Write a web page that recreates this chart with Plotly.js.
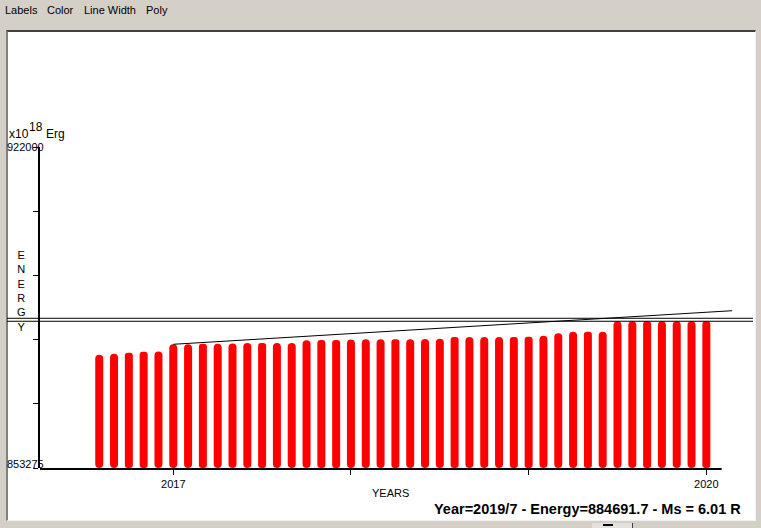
<!DOCTYPE html>
<html>
<head>
<meta charset="utf-8">
<script src="https://cdn.plot.ly/plotly-3.0.1.min.js"></script>
<style>
  html, body { margin: 0; padding: 0; width: 761px; height: 528px; overflow: hidden; background: #d4d0c8; }
  #menu span { position: absolute; top: 4px; font: 11px "Liberation Sans", Arial, sans-serif; color: #000; }
  #panel { position: absolute; left: 6px; top: 30px; width: 747px; height: 488px; background: #fff;
           border-top: 2px solid #404040; border-left: 2px solid #808080;
           border-right: 1px solid #f0f0f0; border-bottom: 1px solid #f0f0f0; }
  #btn { position: absolute; left: 592px; top: 523px; width: 40px; height: 6px; background: #e4e2dc; border-right: 1px solid #404040; }
  #btnmark { position: absolute; left: 603px; top: 524px; width: 10px; height: 2px; background: #000; }
  #chart { position: absolute; left: 0; top: 0; width: 761px; height: 528px; }
</style>
</head>
<body>
<div id="menu">
  <span style="left:5px">Labels</span>
  <span style="left:47px">Color</span>
  <span style="left:84px">Line Width</span>
  <span style="left:146px">Poly</span>
</div>
<div id="panel"></div>
<div id="btn"></div>
<div id="btnmark"></div>
<div id="chart"></div>
<script>
// ---- data ----
const months = [
  '2016/8','2016/9','2016/10','2016/11','2016/12',
  '2017/1','2017/2','2017/3','2017/4','2017/5','2017/6','2017/7','2017/8','2017/9','2017/10','2017/11','2017/12',
  '2018/1','2018/2','2018/3','2018/4','2018/5','2018/6','2018/7','2018/8','2018/9','2018/10','2018/11','2018/12',
  '2019/1','2019/2','2019/3','2019/4','2019/5','2019/6','2019/7','2019/8','2019/9','2019/10','2019/11','2019/12',
  '2020/1'
];
const energy = [
  877532, 877747, 877961, 878175, 878218,
  879781, 879790, 879888, 879895, 879909, 880016, 880038, 880040, 880059, 880637, 880680, 880685,
  880808, 880830, 880832, 880851, 880853, 880872, 880958, 881301, 881322, 881325, 881327, 881343,
  881365, 881579, 882136, 882435, 882457, 882460, 884691.7, 884691.7, 884691.7, 884691.7, 884691.7, 884691.7,
  884691.7
];
const trendX = [2017.0, 2020.145];
const trendY = [879760, 886950];
const levelLines = [884691.7, 885330];
const yMin = 853275, yMax = 922000;
const xLabelTicks = [2017, 2020];
const xLabelText = ['2017', '2020'];
const xMinorTicks = [2018, 2019];
const statusText = 'Year=2019/7 - Energy=884691.7 - Ms = 6.01 R';

// ---- derived ----
const xPos = months.map(m => { const p = m.split('/'); return +p[0] + (+p[1] - 1) / 12; });
const yTicks = [0,1,2,3,4,5].map(i => yMin + (yMax - yMin) * i / 5);
const font = 'Liberation Sans, Arial, sans-serif';

const traces = [
  {
    type: 'bar', x: xPos, y: energy.map(v => v - yMin), base: yMin,
    width: 0.045, marker: { color: '#ff0000', line: { width: 0 } },
    hoverinfo: 'skip'
  },
  {
    type: 'scatter', mode: 'lines', x: trendX, y: trendY,
    line: { color: '#000', width: 1 }, hoverinfo: 'skip'
  }
];

const shapes = levelLines.map(v => ({
  type: 'line', xref: 'paper', yref: 'y', x0: -0.0476, x1: 1.0289, y0: v, y1: v,
  line: { color: '#000', width: 1 }
}));
shapes.push({
  type: 'line', xref: 'x', yref: 'paper', x0: 2016.25, x1: 2020.086, y0: -0.003, y1: -0.003,
  line: { color: '#000', width: 2 }
});

const ann = (text, x, y, opts) => Object.assign({
  text, x, y, xref: 'paper', yref: 'paper', showarrow: false,
  font: { family: font, size: 11, color: '#000' }, borderpad: 0
}, opts);
const f12 = { family: font, size: 12, color: '#000' };

const annotations = [
  ann(String(yMax), -0.049, yMax, { yref: 'y', xanchor: 'left', yanchor: 'middle' }),
  ann(String(yMin), -0.049, yMin, { yref: 'y', xanchor: 'left', yanchor: 'middle', yshift: 4 }),
  ann('x10', -0.0455, 1.041, { xanchor: 'left', yanchor: 'middle', font: f12 }),
  ann('18', -0.0180, 1.063, { xanchor: 'left', yanchor: 'middle', font: f12 }),
  ann('Erg', 0.0072, 1.041, { xanchor: 'left', yanchor: 'middle', font: f12 }),
  ann('E<br>N<br>E<br>R<br>G<br>Y', -0.0274, 0.5523, { xanchor: 'center', yanchor: 'middle' }),
  ann('YEARS', 0.5058, -0.0794, { xanchor: 'center', yanchor: 'middle' }),
  ann('<b>' + statusText + '</b>', 0.790, -0.1277, { xanchor: 'center', yanchor: 'middle', font: { family: font, size: 14.5, color: '#000' } })
];

const layout = {
  width: 761, height: 528, autosize: false,
  margin: { l: 40, r: 28, t: 147, b: 60, pad: 0 },
  paper_bgcolor: 'rgba(0,0,0,0)', plot_bgcolor: 'rgba(0,0,0,0)',
  showlegend: false, barcornerradius: 4,
  font: { family: font, size: 11, color: '#000' },
  xaxis: {
    range: [2016.25, 2020.15], showgrid: false, zeroline: false, showline: false,
    tickmode: 'array', tickvals: xLabelTicks, ticktext: xLabelText,
    ticks: 'outside', ticklen: 6, tickwidth: 1, tickcolor: '#000',
    minor: { tickmode: 'array', tickvals: xMinorTicks, ticks: 'outside', ticklen: 6, tickwidth: 1, tickcolor: '#000', showgrid: false },
    tickfont: { family: font, size: 11, color: '#000' }, fixedrange: true
  },
  yaxis: {
    range: [yMin, yMax], showgrid: false, zeroline: false,
    showline: true, linecolor: '#000', linewidth: 2,
    tickmode: 'array', tickvals: yTicks, showticklabels: false,
    ticks: 'outside', ticklen: 5, tickwidth: 1, tickcolor: '#000', fixedrange: true
  },
  shapes, annotations
};

Plotly.newPlot('chart', traces, layout, { staticPlot: true, displayModeBar: false });
</script>
</body>
</html>
